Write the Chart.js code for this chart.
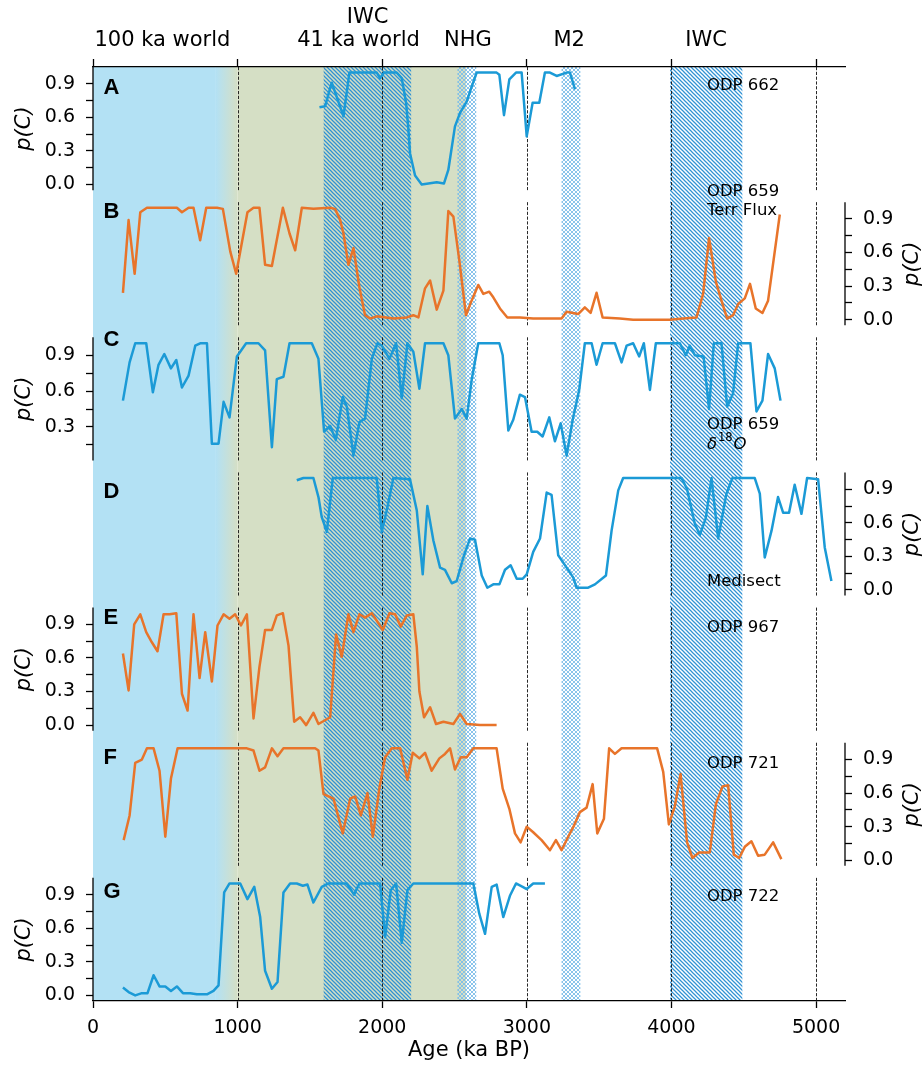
<!DOCTYPE html>
<html>
<head>
<meta charset="utf-8">
<script src="https://cdn.jsdelivr.net/npm/chart.js@4.4.1/dist/chart.umd.min.js"></script>
<style>
html,body{margin:0;padding:0;background:#fff;}
canvas{display:block;}
</style>
</head>
<body>
<canvas id="chart" width="924" height="1067"></canvas>
<script>
// ---- p(C) per core, age in ka BP ----
const ageA = [1566,1605,1651,1732,1773,1962,1985,2013,2100,2135,2165,2181,2192,2227,2273,2377,2427,2457,2503,2538,2584,2612,2653,2791,2810,2842,2879,2925,2964,2999,3040,3086,3125,3160,3206,3275,3298,3333];
const probA = [0.69,0.70,0.91,0.61,1.0,1.0,0.95,1.0,1.0,0.95,0.73,0.49,0.28,0.08,0.0,0.02,0.01,0.13,0.52,0.64,0.74,0.85,1.0,1.0,0.98,0.62,0.94,1.0,1.0,0.43,0.73,0.73,1.0,1.0,0.97,1.0,1.0,0.85];

const ageB = [207,246,288,327,373,511,580,615,661,695,741,783,857,898,949,990,1068,1110,1151,1190,1237,1313,1359,1398,1444,1524,1640,1674,1709,1732,1766,1801,1842,1881,1916,1962,2077,2170,2215,2250,2296,2331,2377,2423,2457,2492,2533,2579,2618,2664,2699,2740,2768,2814,2865,2952,3044,3240,3275,3355,3401,3441,3482,3524,3643,3735,3874,3989,4081,4173,4219,4260,4307,4346,4385,4426,4461,4507,4543,4583,4629,4668,4749];
const probB = [0.24,0.89,0.41,0.96,1.0,1.0,1.0,0.96,1.0,1.0,0.71,1.0,1.0,0.99,0.61,0.41,0.96,1.0,1.0,0.49,0.48,1.0,0.77,0.62,1.0,0.99,1.0,0.99,0.89,0.77,0.49,0.64,0.29,0.04,0.01,0.03,0.01,0.02,0.04,0.02,0.28,0.35,0.09,0.26,0.97,0.92,0.53,0.04,0.17,0.31,0.23,0.25,0.20,0.10,0.02,0.02,0.01,0.01,0.07,0.05,0.11,0.06,0.24,0.02,0.01,0.0,0.0,0.0,0.01,0.02,0.23,0.73,0.34,0.17,0.01,0.04,0.14,0.19,0.32,0.10,0.06,0.17,0.94];

const ageC = [207,253,292,368,414,453,493,539,576,615,661,707,741,788,822,868,903,944,995,1059,1144,1190,1237,1271,1317,1359,1513,1559,1598,1640,1679,1727,1755,1801,1842,1881,1928,1967,1997,2050,2096,2135,2174,2215,2257,2296,2423,2457,2503,2550,2584,2618,2664,2810,2833,2872,2906,2952,2987,3033,3072,3109,3155,3194,3234,3275,3317,3362,3401,3448,3482,3524,3609,3655,3690,3735,3777,3809,3851,3892,3994,4058,4099,4127,4162,4222,4260,4293,4346,4385,4426,4461,4546,4588,4629,4668,4714,4754];
const probC = [0.52,0.84,1.0,1.0,0.59,0.82,0.91,0.79,0.86,0.63,0.73,0.98,1.0,1.0,0.16,0.16,0.51,0.38,0.89,1.0,1.0,0.94,0.13,0.70,0.72,1.0,1.0,0.87,0.26,0.31,0.19,0.55,0.47,0.06,0.34,0.37,0.87,1.0,0.98,0.87,1.0,0.54,1.0,0.93,0.62,1.0,1.0,0.90,0.37,0.45,0.37,0.69,1.0,1.0,0.90,0.27,0.36,0.57,0.55,0.26,0.26,0.22,0.38,0.18,0.33,0.06,0.36,0.61,1.0,1.0,0.82,1.0,1.0,0.84,0.98,1.0,0.89,1.0,0.61,1.0,1.0,1.0,0.90,0.98,0.90,0.89,0.45,1.0,1.0,0.47,0.58,1.0,1.0,0.43,0.52,0.91,0.79,0.52];

const ageD = [1409,1455,1524,1559,1582,1617,1658,1962,1997,2031,2077,2192,2239,2280,2312,2354,2400,2434,2481,2515,2561,2607,2641,2688,2727,2768,2810,2849,2888,2930,2971,2999,3044,3091,3137,3171,3217,3275,3321,3344,3424,3471,3547,3586,3632,3666,3827,4000,4070,4108,4162,4196,4237,4277,4323,4380,4422,4576,4611,4645,4692,4737,4772,4813,4852,4899,4938,5014,5060,5106];
const probD = [0.98,1.0,1.0,0.83,0.65,0.52,1.0,1.0,0.52,0.71,1.0,0.99,0.71,0.14,0.75,0.44,0.20,0.18,0.06,0.08,0.29,0.46,0.45,0.13,0.02,0.05,0.05,0.18,0.22,0.10,0.10,0.14,0.34,0.46,0.87,0.85,0.31,0.20,0.11,0.02,0.02,0.05,0.13,0.53,0.89,1.0,1.0,1.0,1.0,0.90,0.59,0.49,0.64,1.0,0.46,0.86,1.0,1.0,0.86,0.29,0.53,0.83,0.69,0.69,0.94,0.68,1.0,0.99,0.38,0.08];

const ageE = [207,246,285,327,368,407,446,488,530,576,615,654,695,737,776,822,861,903,944,983,1023,1064,1110,1151,1190,1237,1271,1313,1352,1391,1432,1474,1524,1559,1640,1681,1720,1766,1801,1842,1881,1928,2004,2050,2089,2128,2170,2215,2239,2257,2289,2331,2372,2423,2492,2538,2584,2676,2791];
const probE = [0.64,0.31,0.90,0.99,0.83,0.74,0.66,0.99,0.99,1.0,0.28,0.13,0.99,0.42,0.83,0.39,0.89,0.99,0.95,0.99,0.89,0.99,0.06,0.52,0.85,0.85,0.98,1.0,0.71,0.03,0.07,0.0,0.11,0.01,0.07,0.81,0.61,0.99,0.83,0.99,0.96,1.0,0.85,1.0,0.99,0.88,0.98,0.99,0.70,0.30,0.07,0.16,0.01,0.03,0.01,0.10,0.01,0.0,0.0];

const ageF = [212,253,292,338,373,419,460,500,539,585,811,1064,1110,1151,1190,1237,1276,1317,1432,1536,1559,1594,1663,1727,1778,1813,1852,1898,1935,1981,2020,2066,2124,2174,2211,2257,2296,2342,2395,2434,2469,2503,2543,2584,2630,2688,2745,2791,2833,2879,2918,2957,2999,3044,3102,3160,3201,3240,3286,3326,3367,3413,3455,3487,3533,3569,3609,3655,3901,3943,3982,4023,4063,4108,4145,4191,4265,4307,4353,4392,4431,4468,4507,4553,4599,4645,4703,4760];
const probF = [0.18,0.40,0.87,0.90,1.0,1.0,0.80,0.21,0.73,1.0,1.0,1.0,0.98,0.80,0.83,1.0,0.93,1.0,1.0,1.0,0.98,0.59,0.55,0.24,0.55,0.57,0.40,0.60,0.21,0.65,0.92,1.0,1.0,0.72,0.96,0.91,0.96,0.80,0.91,0.95,1.0,0.81,0.92,0.92,1.0,1.0,1.0,1.0,0.64,0.46,0.24,0.16,0.30,0.25,0.18,0.09,0.18,0.09,0.21,0.31,0.43,0.47,0.68,0.24,0.37,1.0,0.95,1.0,1.0,0.79,0.32,0.48,0.77,0.16,0.02,0.07,0.07,0.50,0.66,0.67,0.05,0.02,0.12,0.17,0.04,0.05,0.16,0.01];

const ageG = [207,246,292,338,377,419,460,500,539,580,622,672,718,788,833,868,907,944,1018,1068,1115,1156,1190,1237,1276,1317,1363,1409,1451,1483,1524,1582,1628,1755,1805,1842,1985,2020,2059,2096,2135,2174,2215,2630,2671,2711,2757,2791,2837,2883,2925,2971,2999,3044,3125];
const probG = [0.07,0.03,0.0,0.02,0.02,0.18,0.08,0.08,0.04,0.08,0.02,0.02,0.01,0.01,0.04,0.09,0.92,1.0,1.0,0.86,0.97,0.70,0.22,0.06,0.12,0.92,1.0,1.0,0.98,0.99,0.83,0.97,1.0,1.0,0.90,1.0,1.0,0.52,0.94,1.0,0.47,0.94,1.0,1.0,0.73,0.55,0.97,0.99,0.70,0.89,1.0,0.97,0.95,1.0,1.0];

// ---- axes ----
const X_MAX = 5200;
const xTickValues = [0,1000,2000,3000,4000,5000];
const yTickValues = [0,0.15,0.3,0.45,0.6,0.75,0.9];
const dashedAges = [1000,2000,3000,4000,5000];

// ---- climate intervals (ka) ----
const worldLabels = [
  {text:'100 ka world', at:480,  row:1},
  {text:'IWC',          at:1899, row:0},
  {text:'41 ka world',  at:1836, row:1},
  {text:'NHG',          at:2592, row:1},
  {text:'M2',           at:3293, row:1},
  {text:'IWC',          at:4240, row:1}
];
const blueWorld = [0, 850];
const blendZone = [850, 1000];
const greenWorld = [1000, 2580];
const iwcBands = [[1595,2200],[3990,4490]];
const coldBands = [[2520,2650],[3240,3370]];

const BLUE = '#1b9ad6', ORANGE = '#e8742a';
const SKY = '#b3e1f4', SAGE = '#d5dfc5';

const STRIDE = 135, PANEL_H = 123;   // px per panel slot / px of each frame
const LEFT_W = 93, RIGHT_W = 79;
const SITE_AGE = 4245;

const panels = [
  {letter:'A', side:'left',  ages:ageA, vals:probA, color:BLUE,   lo:-0.05, hi:1.05, site:['ODP 662'], siteDy:[19], letterDy:21},
  {letter:'B', side:'right', ages:ageB, vals:probB, color:ORANGE, lo:-0.05, hi:1.05, site:['ODP 659','Terr Flux'], siteDy:[-10,9], letterDy:10},
  {letter:'C', side:'left',  ages:ageC, vals:probC, color:BLUE,   lo:0.02,  hi:1.05, site:['ODP 659','δ18O'], siteDy:[87,106], letterDy:3},
  {letter:'D', side:'right', ages:ageD, vals:probD, color:BLUE,   lo:-0.05, hi:1.05, site:['Medisect'], siteDy:[109], letterDy:20},
  {letter:'E', side:'left',  ages:ageE, vals:probE, color:ORANGE, lo:-0.05, hi:1.05, site:['ODP 967'], siteDy:[20], letterDy:10},
  {letter:'F', side:'right', ages:ageF, vals:probF, color:ORANGE, lo:-0.05, hi:1.05, site:['ODP 721'], siteDy:[21], letterDy:15},
  {letter:'G', side:'left',  ages:ageG, vals:probG, color:BLUE,   lo:-0.05, hi:1.05, site:['ODP 722'], siteDy:[19], letterDy:14}
];

Chart.defaults.font.family = '"DejaVu Sans", sans-serif';
Chart.defaults.color = '#000';

function axisId(p, i){ return (p.side === 'left' ? 'L' : 'R') + i; }

function makeHatch(cross){
  const n = 4;
  const c = document.createElement('canvas');
  c.width = n; c.height = n;
  const g = c.getContext('2d');
  g.strokeStyle = cross ? '#7cbde9' : '#3192d3';
  g.lineWidth = cross ? 0.9 : 1.25;
  g.beginPath();
  g.moveTo(-1,-1); g.lineTo(n+1,n+1);
  g.moveTo(-1,n-1); g.lineTo(1,n+1);
  g.moveTo(n-1,-1); g.lineTo(n+1,1);
  if (cross) {
    g.moveTo(-1,n+1); g.lineTo(n+1,-1);
    g.moveTo(-1,1); g.lineTo(1,-1);
    g.moveTo(n-1,n+1); g.lineTo(n+1,n-1);
  }
  g.stroke();
  return c;
}

const intervals = {
  id:'intervals',
  beforeDraw(chart){
    const ctx = chart.ctx, x = chart.scales.x;
    const {top, bottom} = chart.chartArea;
    const h = bottom - top;
    const px = v => x.getPixelForValue(v);
    ctx.save();
    ctx.fillStyle = SKY;
    ctx.fillRect(px(blueWorld[0]), top, px(blueWorld[1]) - px(blueWorld[0]), h);
    const grad = ctx.createLinearGradient(px(blendZone[0]), 0, px(blendZone[1]), 0);
    grad.addColorStop(0, SKY); grad.addColorStop(1, SAGE);
    ctx.fillStyle = grad;
    ctx.fillRect(px(blendZone[0]), top, px(blendZone[1]) - px(blendZone[0]), h);
    ctx.fillStyle = SAGE;
    ctx.fillRect(px(greenWorld[0]), top, px(greenWorld[1]) - px(greenWorld[0]), h);

    ctx.fillStyle = ctx.createPattern(makeHatch(true), 'repeat');
    coldBands.forEach(([a,b]) => ctx.fillRect(px(a), top, px(b) - px(a), h));
    ctx.fillStyle = ctx.createPattern(makeHatch(false), 'repeat');
    iwcBands.forEach(([a,b]) => ctx.fillRect(px(a), top, px(b) - px(a), h));
    ctx.restore();
  },
  beforeDatasetsDraw(chart){
    const ctx = chart.ctx, x = chart.scales.x;
    ctx.save();
    ctx.strokeStyle = '#111';
    ctx.lineWidth = 0.9;
    ctx.setLineDash([3.2,1.6]);
    panels.forEach((p,i) => {
      const y = chart.scales[axisId(p,i)];
      const t = y.getPixelForValue(p.hi), b = y.getPixelForValue(p.lo);
      dashedAges.forEach(a => {
        const xx = Math.round(x.getPixelForValue(a)) + 0.5;
        ctx.beginPath(); ctx.moveTo(xx, t); ctx.lineTo(xx, b); ctx.stroke();
      });
    });
    ctx.restore();
  },
  afterDatasetsDraw(chart){
    const ctx = chart.ctx, x = chart.scales.x;
    const area = chart.chartArea;
    ctx.save();
    // spines
    ctx.strokeStyle = '#000';
    ctx.lineWidth = 1.3;
    panels.forEach((p,i) => {
      const y = chart.scales[axisId(p,i)];
      const t = y.getPixelForValue(p.hi), b = y.getPixelForValue(p.lo);
      const sx = p.side === 'left' ? area.left : area.right;
      ctx.beginPath(); ctx.moveTo(sx, t); ctx.lineTo(sx, b); ctx.stroke();
    });

    panels.forEach((p,i) => {
      const y = chart.scales[axisId(p,i)];
      const t = y.getPixelForValue(p.hi), b = y.getPixelForValue(p.lo);
      ctx.fillStyle = '#000';

      // panel letter
      ctx.font = 'bold 22px "Liberation Sans", Arial, sans-serif';
      ctx.textAlign = 'left'; ctx.textBaseline = 'middle';
      ctx.fillText(p.letter, area.left + 10.5, t + p.letterDy);

      // core name
      const sx = x.getPixelForValue(SITE_AGE);
      p.site.forEach((s, k) => {
        const sy = t + p.siteDy[k];
        if (s === 'δ18O') {
          ctx.font = 'italic 16.5px "DejaVu Sans"';
          ctx.fillText('δ', sx, sy + 1);
          let w = ctx.measureText('δ').width + 1;
          ctx.font = '11.5px "DejaVu Sans"';
          ctx.fillText('18', sx + w, sy - 5);
          w += ctx.measureText('18').width + 1;
          ctx.font = 'italic 16.5px "DejaVu Sans"';
          ctx.fillText('O', sx + w, sy + 1);
        } else {
          ctx.font = '16.5px "DejaVu Sans"';
          ctx.fillText(s, sx, sy);
        }
      });

      // y label
      ctx.save();
      ctx.translate(p.side === 'left' ? 25 : 913, (t + b) / 2);
      ctx.rotate(-Math.PI / 2);
      ctx.font = 'italic 21px "DejaVu Sans"';
      ctx.textAlign = 'center';
      ctx.fillText('p(C)', 0, 0);
      ctx.restore();
    });

    // interval names above the frame
    ctx.font = '21px "DejaVu Sans"';
    ctx.textAlign = 'center'; ctx.textBaseline = 'alphabetic';
    worldLabels.forEach(l => {
      ctx.fillText(l.text, x.getPixelForValue(l.at), l.row ? area.top - 21 : area.top - 44.5);
    });
    ctx.restore();
  }
};

const datasets = panels.map((p,i) => ({
  label: p.letter,
  data: p.ages.map((a,k) => ({x:a, y:p.vals[k]})),
  xAxisID: 'x',
  yAxisID: axisId(p,i),
  borderColor: p.color,
  borderWidth: 2.5,
  borderJoinStyle: 'round',
  pointRadius: 0,
  tension: 0
}));

const scales = {
  x: {
    type:'linear', position:'bottom', min:0, max:X_MAX,
    afterBuildTicks: s => { s.ticks = xTickValues.map(v => ({value:v})); },
    afterFit: s => { s.height = 66; },
    ticks: {font:{size:19}, color:'#000', padding:9, maxRotation:0, callback: v => String(v)},
    grid: {drawOnChartArea:false, tickLength:7, tickWidth:1.3, tickColor:'#000'},
    border: {display:true, color:'#000', width:1.3},
    title: {display:true, text:'Age (ka BP)', font:{size:21}, color:'#000', padding:{top:0, bottom:4}}
  },
  xTop: {
    type:'linear', position:'top', min:0, max:X_MAX,
    afterBuildTicks: s => { s.ticks = xTickValues.map(v => ({value:v})); },
    afterFit: s => { s.height = 67; },
    ticks: {display:false},
    grid: {drawOnChartArea:false, tickLength:8, tickWidth:1.3, tickColor:'#000'},
    border: {display:true, color:'#000', width:1.3}
  }
};

panels.forEach((p,i) => {
  const last = i === panels.length - 1;
  const weight = last ? PANEL_H : STRIDE;
  const min = last ? p.lo : p.lo - (STRIDE - PANEL_H) * (p.hi - p.lo) / PANEL_H;
  ['left','right'].forEach(side => {
    const id = (side === 'left' ? 'L' : 'R') + i;
    scales[id] = {
      type:'linear', position:side, stack:'panels', stackWeight:weight,
      weight: side === 'left' ? panels.length - i : i,
      display: side === p.side,
      min: min, max: p.hi,
      afterFit: s => { s.width = side === 'left' ? LEFT_W : RIGHT_W; },
      afterBuildTicks: s => {
        s.ticks = yTickValues.filter(v => v >= p.lo - 1e-9 && v <= p.hi).map(v => ({value:v}));
      },
      ticks: {
        autoSkip:false, padding:11, font:{size:19}, color:'#000',
        callback: v => Math.abs(v / 0.3 - Math.round(v / 0.3)) < 1e-6 ? v.toFixed(1) : ''
      },
      grid: {drawOnChartArea:false, tickLength:7, tickWidth:1.3, tickColor:'#000'},
      border: {display:false}
    };
  });
});

new Chart(document.getElementById('chart'), {
  type: 'line',
  data: {datasets},
  options: {
    responsive: false,
    animation: false,
    layout: {padding: 0},
    plugins: {legend:{display:false}, tooltip:{enabled:false}},
    scales
  },
  plugins: [intervals]
});
</script>
</body>
</html>
